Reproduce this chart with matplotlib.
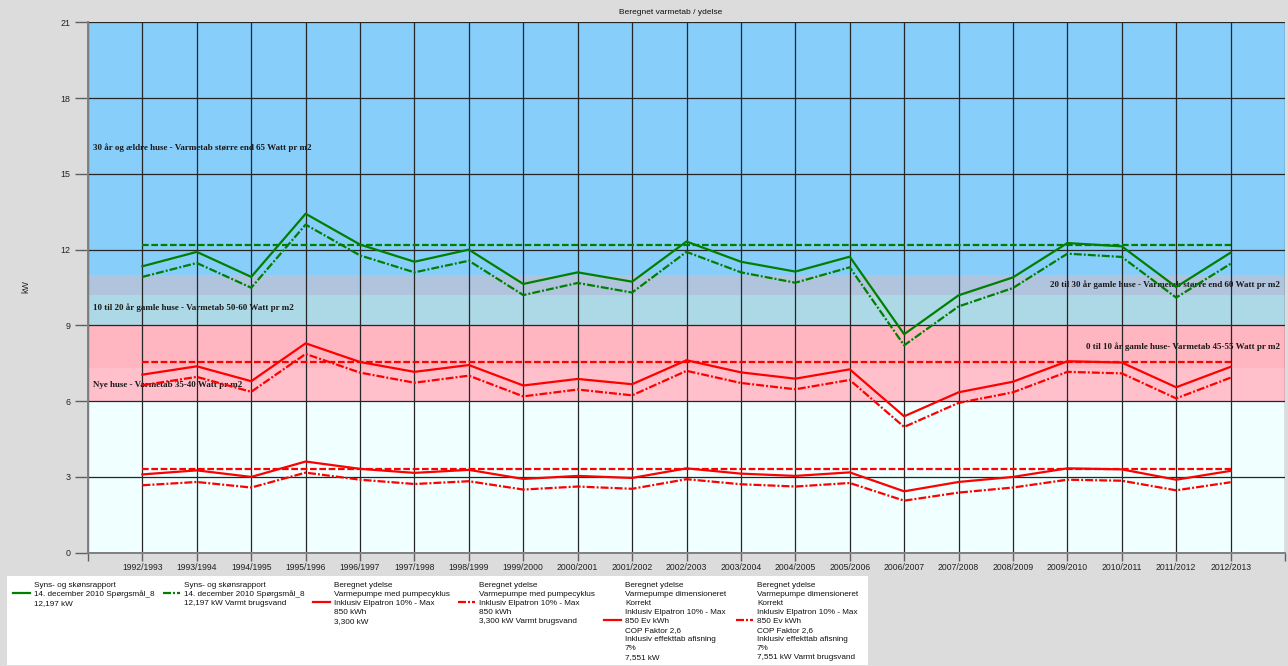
import numpy as np
import matplotlib
matplotlib.use('Agg')
import matplotlib.pyplot as plt
from matplotlib.lines import Line2D
from matplotlib.patches import Rectangle

# Fyringssaesoner
seasons = ['1992/1993', '1993/1994', '1994/1995', '1995/1996', '1996/1997',
           '1997/1998', '1998/1999', '1999/2000', '2000/2001', '2001/2002',
           '2002/2003', '2003/2004', '2004/2005', '2005/2006', '2006/2007',
           '2007/2008', '2008/2009', '2009/2010', '2010/2011', '2011/2012',
           '2012/2013']

# Syns- og skoensrapport (kW)
syn_kw = [11.34, 11.91, 10.92, 13.42, 12.2, 11.52, 12.0, 10.64, 11.1, 10.73, 12.32,
          11.52, 11.13, 11.72, 8.65, 10.19, 10.9, 12.26, 12.13, 10.52, 11.88]
syn_vand = [10.92, 11.47, 10.49, 12.99, 11.77, 11.1, 11.56, 10.2, 10.68, 10.3, 11.91,
            11.1, 10.69, 11.3, 8.21, 9.75, 10.48, 11.84, 11.71, 10.1, 11.44]
syn_flat = 12.197

# Varmepumpe med pumpecyklus (kW)
pump_kw = [3.1, 3.26, 3.0, 3.61, 3.32, 3.16, 3.28, 2.92, 3.04, 2.96, 3.34,
           3.13, 3.04, 3.18, 2.43, 2.8, 3.0, 3.34, 3.3, 2.89, 3.24]
pump_vand = [2.67, 2.8, 2.58, 3.17, 2.89, 2.72, 2.83, 2.5, 2.62, 2.53, 2.91,
             2.71, 2.62, 2.76, 2.06, 2.38, 2.58, 2.89, 2.85, 2.47, 2.79]
pump_flat = 3.3

# Varmepumpe dimensioneret korrekt (kW)
dim_kw = [7.05, 7.38, 6.79, 8.29, 7.55, 7.16, 7.43, 6.62, 6.88, 6.67, 7.62,
          7.14, 6.89, 7.26, 5.4, 6.35, 6.77, 7.58, 7.53, 6.55, 7.36]
dim_vand = [6.63, 6.96, 6.37, 7.87, 7.13, 6.73, 7.01, 6.19, 6.46, 6.23, 7.2,
            6.72, 6.47, 6.84, 4.98, 5.93, 6.35, 7.16, 7.1, 6.11, 6.93]
dim_flat = 7.551

# Varmetabsbaand (kW)
band_lo = [0, 6, 7.3, 9, 10.2, 11]
band_hi = [6, 7.3, 9, 10.2, 11, 21]
band_colors = ['#F0FFFF', '#FFC0CB', '#FFB6C1', '#ADD8E6', '#B0C4DE', '#87CEFA']

band_labels = ['30 år og ældre huse - Varmetab større end 65 Watt pr m2',
               '20 til 30 år gamle huse - Varmetab større end 60 Watt pr m2',
               '10 til 20 år gamle huse - Varmetab 50-60 Watt pr m2',
               '0 til 10 år gamle huse- Varmetab 45-55 Watt pr m2',
               'Nye huse - Varmetab 35-40 Watt pr m2']

legend_labels = [
    'Syns- og skønsrapport\n14. december 2010 Spørgsmål_8\n12,197 kW',
    'Syns- og skønsrapport\n14. december 2010 Spørgsmål_8\n12,197 kW Varmt brugsvand',
    'Beregnet ydelse\nVarmepumpe med pumpecyklus\nInklusiv Elpatron 10% - Max\n850 kWh\n3,300 kW',
    'Beregnet ydelse\nVarmepumpe med pumpecyklus\nInklusiv Elpatron 10% - Max\n850 kWh\n3,300 kW Varmt brugsvand',
    'Beregnet ydelse\nVarmepumpe dimensioneret\nKorrekt\nInklusiv Elpatron 10% - Max\n850 Ev kWh\n'
    'COP Faktor 2,6\nInklusiv effekttab afisning\n7%\n7,551 kW',
    'Beregnet ydelse\nVarmepumpe dimensioneret\nKorrekt\nInklusiv Elpatron 10% - Max\n850 Ev kWh\n'
    'COP Faktor 2,6\nInklusiv effekttab afisning\n7%\n7,551 kW Varmt brugsvand',
]

W, H = 1288, 666
sans = ['Liberation Sans', 'DejaVu Sans']
GREEN = '#008000'
RED = '#FF0000'
DASH = (3, 1.2)
DASHDOT = (3.6, 0.9, 0.9, 0.9)
LW = 1.6


def fx(px):
    return px / W


def fy(py):
    return 1 - py / H


fig = plt.figure(figsize=(W / 100, H / 100), dpi=100, facecolor='#DCDCDC')
ax = fig.add_axes([fx(88), fy(552.7), fx(1285 - 88), (552.7 - 22.3) / H])

for lo, hi, c in zip(band_lo, band_hi, band_colors):
    ax.axhspan(lo, hi, color=c, lw=0, zorder=0.5)

# tekst i baandene
bl_pos = [(0.09, 16.03, 'left'), (21.9, 10.61, 'right'), (0.09, 9.69, 'left'),
          (21.9, 8.17, 'right'), (0.09, 6.65, 'left')]
for txt, (bx, by, ha) in zip(band_labels, bl_pos):
    ax.text(bx, by, txt, ha=ha, va='center', fontsize=6.5, fontweight='bold',
            family=['Liberation Serif', 'DejaVu Serif'], color='#1a1a1a', zorder=1.8)

x = np.arange(1, len(seasons) + 1)
ax.plot(x, syn_kw, color=GREEN, lw=LW, zorder=3)
ax.plot(x, syn_vand, color=GREEN, lw=LW, dashes=DASHDOT, zorder=3)
ax.plot(x, [syn_flat] * len(x), color=GREEN, lw=LW, dashes=DASH, zorder=3)
ax.plot(x, dim_kw, color=RED, lw=LW, zorder=3)
ax.plot(x, dim_vand, color=RED, lw=LW, dashes=DASHDOT, zorder=3)
ax.plot(x, [dim_flat] * len(x), color=RED, lw=LW, dashes=DASH, zorder=3)
ax.plot(x, pump_kw, color=RED, lw=LW, zorder=3)
ax.plot(x, pump_vand, color=RED, lw=LW, dashes=DASHDOT, zorder=3)
ax.plot(x, [pump_flat] * len(x), color=RED, lw=LW, dashes=DASH, zorder=3)

ax.set_xlim(0, len(seasons) + 1)
ax.set_ylim(0, 21)
ax.set_xticks(range(0, len(seasons) + 2))
ax.set_xticklabels([''] + seasons + [''])
ax.set_yticks(range(0, 22, 3))
ax.grid(True, color='#262626', lw=0.9, zorder=1.5)

for s in ['top', 'right']:
    ax.spines[s].set_visible(False)
for s in ['left', 'bottom']:
    ax.spines[s].set_color('#808080')
    ax.spines[s].set_linewidth(1.4)

ax.tick_params(axis='y', length=9.4, width=1, color='#606060', pad=3, labelsize=6.4,
               labelcolor='#222222')
ax.tick_params(axis='x', length=5.8, width=1, color='#606060', pad=1.5, labelsize=6.2,
               labelcolor='#222222')
for lab in ax.get_xticklabels() + ax.get_yticklabels():
    lab.set_family(sans)

fig.text(fx(671), fy(13), 'Beregnet varmetab / ydelse', ha='center', va='center',
         fontsize=6, family=sans, color='#111111')
fig.text(fx(26), fy(287), 'kW', rotation=90, ha='center', va='center',
         fontsize=6.4, family=sans, color='#222222')

# legende
fig.add_artist(Rectangle((fx(7), fy(665)), fx(868 - 7), (665 - 576) / H,
                         transform=fig.transFigure, facecolor='white', edgecolor='none'))
handle_x = [13, 163, 313, 458, 604, 736]
handle_col = [GREEN, GREEN, RED, RED, RED, RED]
handle_dash = [None, DASHDOT, None, DASHDOT, None, DASHDOT]
line_h = 9
top_line = 584
for lab, hx, col, dsh in zip(legend_labels, handle_x, handle_col, handle_dash):
    rows = lab.split('\n')
    hy = top_line + (len(rows) - 1) / 2 * line_h
    ln = Line2D([fx(hx), fx(hx + 17)], [fy(hy), fy(hy)], transform=fig.transFigure,
                color=col, lw=LW)
    if dsh is not None:
        ln.set_dashes(dsh)
    fig.add_artist(ln)
    for j, row in enumerate(rows):
        fig.text(fx(hx + 21), fy(top_line + 3.3 + j * line_h), row, ha='left', va='baseline',
                 fontsize=5.9, family=sans, color='#111111')

fig.savefig('out.png', dpi=100, facecolor=fig.get_facecolor())
